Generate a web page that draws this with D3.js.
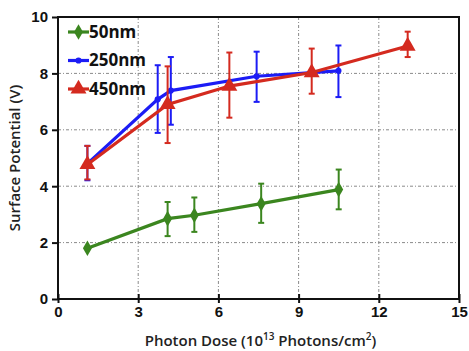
<!DOCTYPE html>
<html>
<script src="https://cdn.jsdelivr.net/npm/d3@7/dist/d3.min.js"></script>
<style>
  body, html { margin: 0; padding: 0; background: #fff; }
  svg { display: block; font-family: "Open Sans", sans-serif; }
  .grid line { stroke: #8a8a8a; stroke-width: 1; stroke-dasharray: 3,2,1,2; }
  .axis text { font-size: 15px; font-weight: bold; fill: #111; }
  .axis path, .axis line { stroke: #111; stroke-width: 2; }
</style>
<body>
<svg width="469" height="351"></svg>
<script>

// photon dose (1e13 photons/cm2), surface potential (V), error low / high
var dose50  = [1.1, 4.1, 5.1, 7.6, 10.5],
    volt50  = [1.8, 2.85, 2.97, 3.38, 3.88],
    lo50    = [1.8, 2.23, 2.38, 2.70, 3.18],
    hi50    = [1.8, 3.44, 3.60, 4.09, 4.59];

var dose250 = [1.1, 3.73, 4.22, 7.43, 10.49],
    volt250 = [4.8, 7.08, 7.39, 7.90, 8.09],
    lo250   = [4.21, 5.89, 6.18, 6.99, 7.16],
    hi250   = [5.43, 8.29, 8.58, 8.77, 8.99];

var dose450 = [1.1, 4.1, 6.41, 9.49, 13.08],
    volt450 = [4.77, 6.9, 7.55, 8.03, 8.97],
    lo450   = [4.24, 5.53, 6.43, 7.28, 8.58],
    hi450   = [5.43, 8.25, 8.74, 8.88, 9.48];

var xTicks = [0, 3, 6, 9, 12, 15],
    yTicks = [0, 2, 4, 6, 8, 10];

var series = [
  { name: '50nm',  color: '#3b861f', shape: 'diamond',  x: dose50,  y: volt50,  lo: lo50,  hi: hi50 },
  { name: '250nm', color: '#1c1cf5', shape: 'circle',   x: dose250, y: volt250, lo: lo250, hi: hi250 },
  { name: '450nm', color: '#d42a1f', shape: 'triangle', x: dose450, y: volt450, lo: lo450, hi: hi450 }
];

var margin = { top: 17, left: 58, right: 10, bottom: 52 },
    width = 459 - margin.left,
    height = 299 - margin.top;

var svg = d3.select('svg');
var g = svg.append('g').attr('transform', 'translate(' + margin.left + ',' + margin.top + ')');

var x = d3.scaleLinear().domain([0, 15]).range([0, width]),
    y = d3.scaleLinear().domain([0, 10]).range([height, 0]);

// grid
g.append('g').attr('class', 'grid')
  .selectAll('line.v').data(xTicks.slice(1, -1)).enter().append('line')
  .attr('x1', x).attr('x2', x).attr('y1', 0).attr('y2', height);
g.select('.grid')
  .selectAll('line.h').data(yTicks.slice(1, -1)).enter().append('line')
  .attr('x1', 0).attr('x2', width).attr('y1', y).attr('y2', y);

// frame
g.append('rect').attr('width', width).attr('height', height)
  .attr('fill', 'none').attr('stroke', '#111').attr('stroke-width', 2);

// axes
g.append('g').attr('class', 'axis')
  .attr('transform', 'translate(0,' + height + ')')
  .call(d3.axisBottom(x).tickValues(xTicks).tickSizeInner(-5).tickSizeOuter(0).tickPadding(7))
  .call(function (a) {
    a.selectAll('.tick line').attr('y1', 4);
    a.select('.domain').remove();
  });

g.append('g').attr('class', 'axis')
  .call(d3.axisLeft(y).tickValues(yTicks).tickSize(6).tickSizeOuter(0).tickPadding(4))
  .call(function (a) { a.select('.domain').remove(); });

// axis titles
var xt = svg.append('text')
  .attr('x', margin.left + width / 2 + 2).attr('y', 346)
  .attr('text-anchor', 'middle')
  .style('font-size', '15px').style('font-weight', 600).style('fill', '#222');
xt.append('tspan').text('Photon Dose (10');
xt.append('tspan').text('13').style('font-size', '10px').attr('dy', -6);
xt.append('tspan').text(' Photons/cm').attr('dy', 6);
xt.append('tspan').text('2').style('font-size', '10px').attr('dy', -6);
xt.append('tspan').text(')').attr('dy', 6);

svg.append('text')
  .attr('transform', 'translate(20,' + (margin.top + height / 2) + ') rotate(-90)')
  .attr('text-anchor', 'middle')
  .style('font-size', '15px').style('font-weight', 600).style('fill', '#222')
  .text('Surface Potential (V)');

var symbols = {
  diamond:  d3.symbol().type(d3.symbolDiamond).size(70),
  circle:   d3.symbol().type(d3.symbolCircle).size(30),
  triangle: d3.symbol().type(d3.symbolTriangle).size(110)
};

var line = d3.line().x(function (d) { return x(d.x); }).y(function (d) { return y(d.y); });

series.forEach(function (s) {
  var pts = s.x.map(function (v, i) { return { x: v, y: s.y[i], lo: s.lo[i], hi: s.hi[i] }; });
  var sg = g.append('g');

  // error bars
  var eb = sg.selectAll('g.err').data(pts.filter(function (d) { return d.hi > d.lo; }))
    .enter().append('g').attr('stroke', s.color).attr('stroke-width', 2);
  eb.append('line')
    .attr('x1', function (d) { return x(d.x); }).attr('x2', function (d) { return x(d.x); })
    .attr('y1', function (d) { return y(d.lo); }).attr('y2', function (d) { return y(d.hi); });
  eb.append('line')
    .attr('x1', function (d) { return x(d.x) - 3; }).attr('x2', function (d) { return x(d.x) + 3; })
    .attr('y1', function (d) { return y(d.lo); }).attr('y2', function (d) { return y(d.lo); });
  eb.append('line')
    .attr('x1', function (d) { return x(d.x) - 3; }).attr('x2', function (d) { return x(d.x) + 3; })
    .attr('y1', function (d) { return y(d.hi); }).attr('y2', function (d) { return y(d.hi); });

  sg.append('path').datum(pts).attr('d', line)
    .attr('fill', 'none').attr('stroke', s.color).attr('stroke-width', 3.2);

  sg.selectAll('path.m').data(pts).enter().append('path')
    .attr('d', symbols[s.shape])
    .attr('transform', function (d) { return 'translate(' + x(d.x) + ',' + y(d.y) + ')'; })
    .attr('fill', s.color);
});

// legend
var lg = svg.append('g').attr('transform', 'translate(68,32)');
series.forEach(function (s, i) {
  var row = lg.append('g').attr('transform', 'translate(0,' + (i * 28.5) + ')');
  row.append('line').attr('x1', 0).attr('x2', 21).attr('stroke', s.color).attr('stroke-width', 3.2);
  row.append('path').attr('d', symbols[s.shape]).attr('transform', 'translate(10.5,0)').attr('fill', s.color);
  row.append('text').attr('x', 21).attr('dy', '0.35em')
    .style('font-size', '17px').style('font-weight', 'bold').style('fill', '#111')
    .text(s.name);
});

</script>
</body>
</html>
